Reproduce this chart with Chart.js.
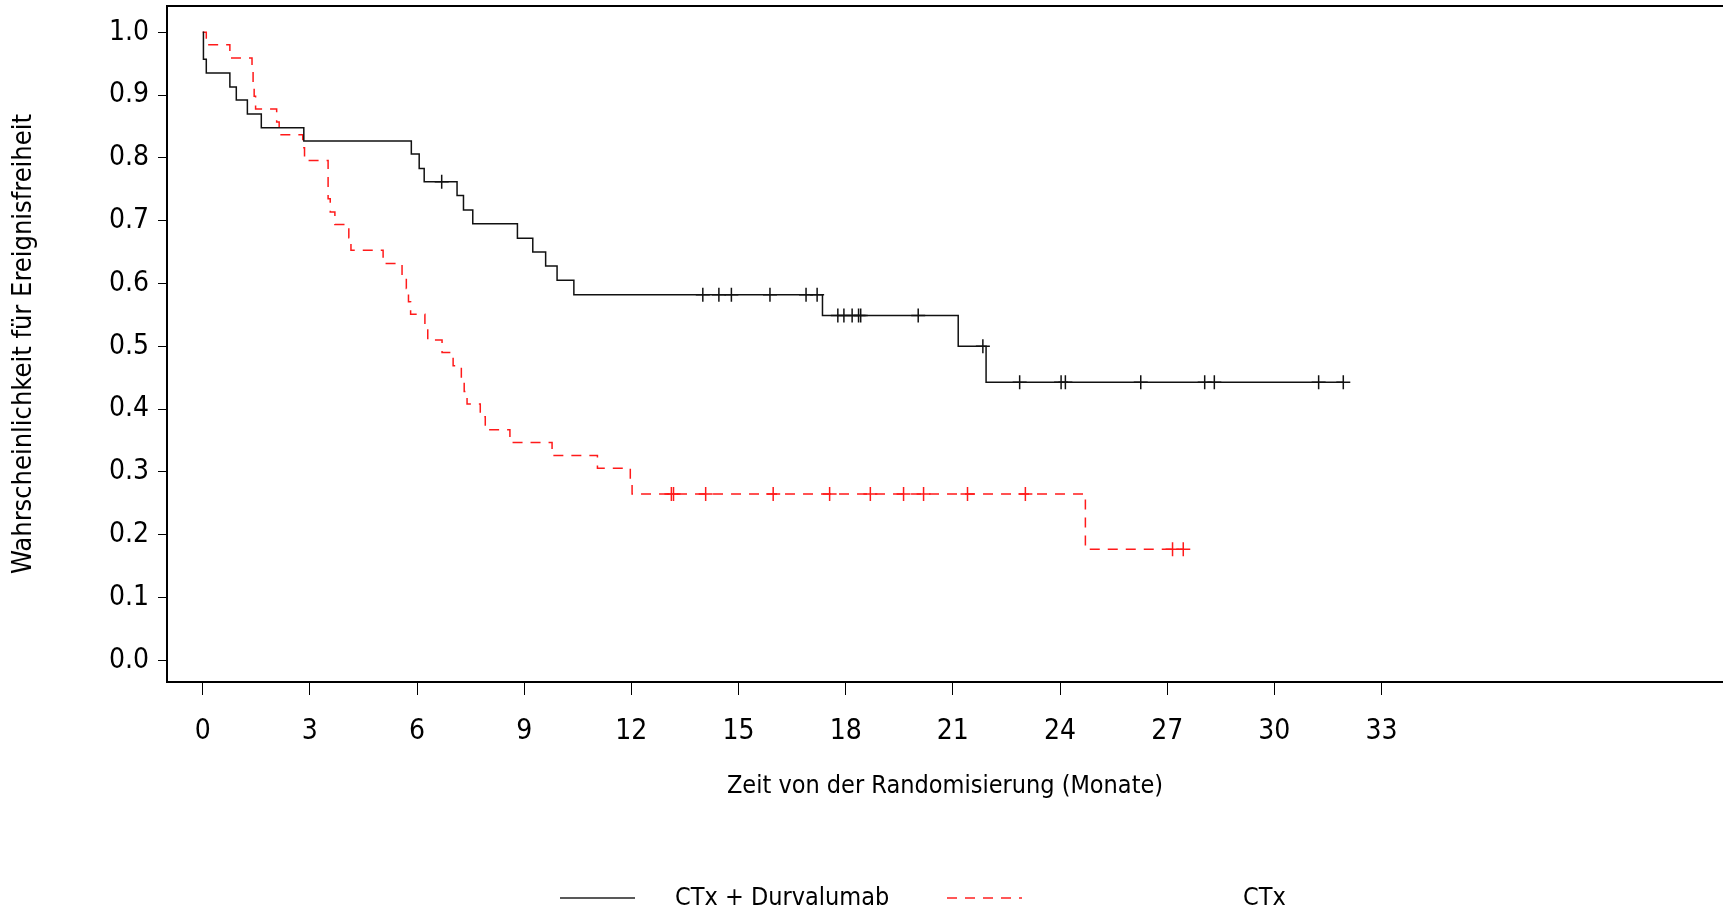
<!DOCTYPE html>
<html>
<head>
<meta charset="utf-8">
<script src="https://cdn.jsdelivr.net/npm/chart.js@4.4.1/dist/chart.umd.min.js"></script>
<style>
  html, body { margin: 0; padding: 0; background: #fff; overflow: hidden; }
  #wrap { width: 1723px; height: 912px; position: relative; }
  #km { display: block; }
</style>
</head>
<body>
<div id="wrap"><canvas id="km"></canvas></div>
<script>
// Kaplan-Meier Stufen (Monate / Wahrscheinlichkeit)
const durvaTime = [0, 0.02, 0.1, 0.76, 0.94, 1.25, 1.64, 2.83, 5.84, 6.06, 6.2, 7.12, 7.3, 7.56, 8.81, 9.24, 9.6, 9.92, 10.39, 17.35, 21.15, 21.93, 31.93];
const durvaSurv = [1.0, 0.957, 0.935, 0.913, 0.892, 0.870, 0.848, 0.827, 0.806, 0.783, 0.762, 0.740, 0.717, 0.695, 0.672, 0.650, 0.628, 0.605, 0.582, 0.549, 0.500, 0.443, 0.443];
const durvaCensor = [6.69, 14.0, 14.45, 14.8, 15.88, 16.89, 17.2, 17.78, 17.95, 18.18, 18.36, 18.42, 20.03, 21.84, 22.87, 24.03, 24.15, 26.26, 28.05, 28.32, 31.24, 31.93];

const ctxTime = [0, 0.1, 0.76, 1.38, 1.41, 1.44, 1.48, 2.07, 2.14, 2.8, 2.85, 3.51, 3.57, 3.7, 4.09, 4.15, 5.05, 5.58, 5.7, 5.76, 5.82, 6.22, 6.3, 6.7, 7.01, 7.24, 7.32, 7.4, 7.77, 7.91, 8.6, 9.78, 11.05, 11.97, 12.02, 24.71, 27.45];
const ctxSurv = [1.0, 0.980, 0.959, 0.939, 0.918, 0.898, 0.878, 0.857, 0.837, 0.816, 0.796, 0.735, 0.714, 0.694, 0.673, 0.653, 0.632, 0.612, 0.592, 0.571, 0.551, 0.531, 0.510, 0.490, 0.469, 0.449, 0.428, 0.408, 0.388, 0.367, 0.347, 0.326, 0.306, 0.286, 0.265, 0.177, 0.177];
const ctxCensor = [13.12, 13.18, 14.08, 15.97, 17.55, 18.69, 19.62, 20.18, 21.41, 23.03, 27.15, 27.45];

const xTicks = [0, 3, 6, 9, 12, 15, 18, 21, 24, 27, 30, 33];
const yTicks = [0, 0.1, 0.2, 0.3, 0.4, 0.5, 0.6, 0.7, 0.8, 0.9, 1.0];

const seriesNames = ["CTx + Durvalumab", "CTx"];

const FONT = "'DejaVu Sans Condensed', 'Liberation Sans Narrow', sans-serif";

// Wert der Kurve zum Zeitpunkt t (für die Zensierungs-Kreuze)
function survAt(times, surv, t) {
  let s = surv[0];
  for (let i = 0; i < times.length; i++) {
    if (times[i] <= t) s = surv[i];
  }
  return s;
}

const toPoints = (times, surv) => times.map((t, i) => ({ x: t, y: surv[i] }));
const censorPoints = (cens, times, surv) => cens.map(t => ({ x: t, y: survAt(times, surv, t) }));

// Rahmen oben + Legende unten
const framePlugin = {
  id: "frame",
  afterDraw(chart) {
    const { ctx, chartArea } = chart;
    ctx.save();
    ctx.strokeStyle = "#000";
    ctx.lineWidth = 2;
    ctx.beginPath();
    ctx.moveTo(chartArea.left, chartArea.top);
    ctx.lineTo(chartArea.right, chartArea.top);
    ctx.stroke();

    const ly = 898;
    ctx.font = "25px " + FONT;
    ctx.textBaseline = "middle";
    ctx.fillStyle = "#000";

    ctx.lineWidth = 1.5;
    ctx.strokeStyle = "#222";
    ctx.beginPath();
    ctx.moveTo(560, ly);
    ctx.lineTo(635, ly);
    ctx.stroke();
    ctx.fillText(seriesNames[0], 675, ly);

    ctx.strokeStyle = "#ff2020";
    ctx.setLineDash([10, 8]);
    ctx.beginPath();
    ctx.moveTo(947, ly);
    ctx.lineTo(1022, ly);
    ctx.stroke();
    ctx.setLineDash([]);
    ctx.fillText(seriesNames[1], 1243, ly);
    ctx.restore();
  }
};

new Chart(document.getElementById("km"), {
  type: "scatter",
  data: {
    datasets: [
      {
        label: seriesNames[0],
        data: toPoints(durvaTime, durvaSurv),
        showLine: true,
        stepped: "before",
        borderColor: "#111",
        borderWidth: 1.5,
        pointRadius: 0
      },
      {
        label: seriesNames[0] + " zensiert",
        data: censorPoints(durvaCensor, durvaTime, durvaSurv),
        showLine: false,
        pointStyle: "cross",
        pointRadius: 7,
        borderColor: "#111",
        borderWidth: 1.5
      },
      {
        label: seriesNames[1],
        data: toPoints(ctxTime, ctxSurv),
        showLine: true,
        stepped: "before",
        borderColor: "#ff1a1a",
        borderDash: [10, 8],
        borderWidth: 1.5,
        pointRadius: 0
      },
      {
        label: seriesNames[1] + " zensiert",
        data: censorPoints(ctxCensor, ctxTime, ctxSurv),
        showLine: false,
        pointStyle: "cross",
        pointRadius: 7,
        borderColor: "#ff1a1a",
        borderWidth: 1.5
      }
    ]
  },
  options: {
    responsive: true,
    maintainAspectRatio: false,
    animation: false,
    layout: { autoPadding: false, padding: { left: 0, top: 6, right: 0, bottom: 0 } },
    plugins: {
      legend: { display: false },
      tooltip: { enabled: false }
    },
    scales: {
      x: {
        type: "linear",
        min: -1,
        max: 42.56,
        afterBuildTicks: scale => { scale.ticks = xTicks.map(v => ({ value: v })); },
        afterFit: scale => {
          scale.height = 230;
          scale.paddingLeft = 0;
          scale.paddingRight = 0;
        },
        grid: { drawOnChartArea: false, drawTicks: true, tickLength: 13, color: "#000", lineWidth: 1 },
        border: { display: true, color: "#000", width: 2 },
        ticks: {
          color: "#000",
          padding: 20,
          maxRotation: 0,
          autoSkip: false,
          font: { family: FONT, size: 28 },
          callback: v => String(v)
        },
        title: {
          display: true,
          text: "Zeit von der Randomisierung (Monate)",
          color: "#000",
          font: { family: FONT, size: 25 },
          padding: { top: 0, bottom: 111 }
        }
      },
      y: {
        type: "linear",
        min: -0.0344,
        max: 1.0418,
        afterBuildTicks: scale => { scale.ticks = yTicks.map(v => ({ value: v })); },
        afterFit: scale => {
          scale.width = 167;
          scale.paddingTop = 0;
          scale.paddingBottom = 0;
        },
        grid: { drawOnChartArea: false, drawTicks: true, tickLength: 9, color: "#000", lineWidth: 1 },
        border: { display: true, color: "#000", width: 2 },
        ticks: {
          color: "#000",
          padding: 9,
          autoSkip: false,
          font: { family: FONT, size: 28 },
          callback: v => Number(v).toFixed(1)
        },
        title: {
          display: true,
          text: "Wahrscheinlichkeit für Ereignisfreiheit",
          color: "#000",
          font: { family: FONT, size: 27 },
          padding: { top: 8, bottom: 0 }
        }
      }
    }
  },
  plugins: [framePlugin]
});
</script>
</body>
</html>
